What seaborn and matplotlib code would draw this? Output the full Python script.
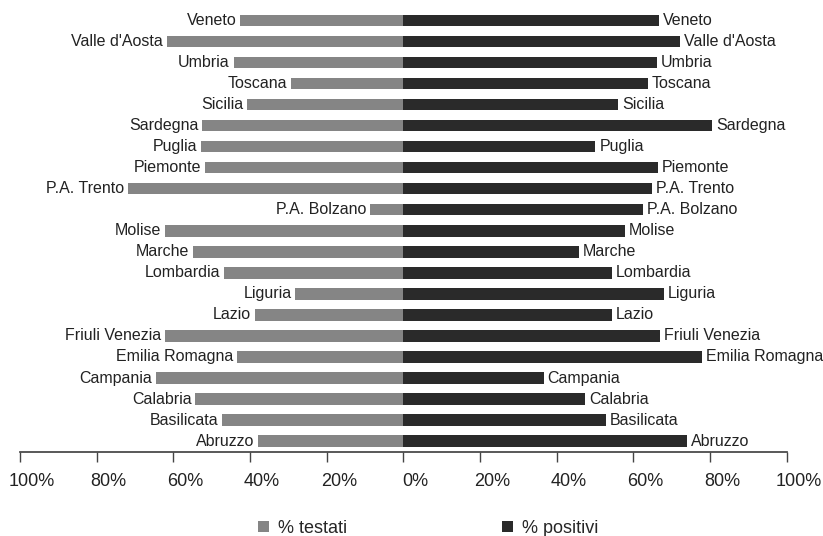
import numpy as np
import pandas as pd
import matplotlib
matplotlib.use("Agg")
import matplotlib.pyplot as plt
import matplotlib.transforms as mtransforms
import seaborn as sns
from matplotlib.patches import Patch

# 지역 (위 -> 아래 순서)
regioni = ["Veneto", "Valle d'Aosta", "Umbria", "Toscana", "Sicilia", "Sardegna",
           "Puglia", "Piemonte", "P.A. Trento", "P.A. Bolzano", "Molise", "Marche",
           "Lombardia", "Liguria", "Lazio", "Friuli Venezia", "Emilia Romagna",
           "Campania", "Calabria", "Basilicata", "Abruzzo"]
testati = [42.6, 61.7, 44.3, 29.2, 40.7, 52.4, 52.8, 51.7, 71.8, 8.7, 62.2, 55.0,
           46.7, 28.2, 38.7, 62.2, 43.5, 64.6, 54.3, 47.2, 37.8]
positivi = [66.7, 72.2, 66.1, 63.8, 56.0, 80.6, 50.1, 66.4, 64.8, 62.5, 57.7, 45.7,
            54.4, 67.9, 54.4, 67.0, 77.9, 36.6, 47.4, 52.9, 74.1]
serie = ["% testati", "% positivi"]
colori = ["#858585", "#2a2a2a"]

sns.set_theme(style="white")
plt.rcParams['font.family'] = ['Liberation Sans', 'DejaVu Sans']

# 왼쪽은 음수로 뒤집어서 그린다
df = pd.concat([
    pd.DataFrame({"regione": regioni, "valore": -np.array(testati), "serie": serie[0]}),
    pd.DataFrame({"regione": regioni, "valore": np.array(positivi), "serie": serie[1]}),
])

fig = plt.figure(figsize=(8.23, 5.36), dpi=100)
ax = fig.add_axes([0.0243, 0.1567, 0.9317, 0.8253])

sns.barplot(data=df, x="valore", y="regione", hue="serie", order=regioni,
            hue_order=serie, palette=colori, dodge=False, width=0.54,
            saturation=1, linewidth=0, orient="h", legend=False, ax=ax)

# 막대 끝 라벨
for i, r in enumerate(regioni):
    ax.text(-testati[i] - 1.0, i, r, ha="right", va="center", fontsize=11.5, color="#222222")
    ax.text(positivi[i] + 1.0, i, r, ha="left", va="center", fontsize=11.5, color="#222222",
            clip_on=False)

ax.set_xlim(-100, 100)
ax.set_ylim(len(regioni) - 0.48, -0.52)
ax.set_xticks(np.arange(-100, 101, 20))
ax.set_xticklabels([f"{abs(v)}%" for v in range(-100, 101, 20)], fontsize=13, color="#222222")
ax.set_yticks([])
ax.set_xlabel("")
ax.set_ylabel("")
sns.despine(ax=ax, left=True, top=True, right=True)
ax.spines["bottom"].set_color("#444444")
ax.tick_params(axis="x", direction="out", length=7, width=1, color="#444444", pad=8, bottom=True)

# 원본처럼 눈금 라벨을 오른쪽으로 조금 밀기
shift = mtransforms.ScaledTranslation(12 / 100, 0, fig.dpi_scale_trans)
for lbl in ax.get_xticklabels():
    lbl.set_transform(lbl.get_transform() + shift)

handles = [Patch(facecolor=c, edgecolor="none") for c in colori]
fig.legend(handles, serie, loc="center", bbox_to_anchor=(0.52, 0.014), ncol=2,
           frameon=False, fontsize=13, handlelength=0.6, handleheight=0.6,
           handletextpad=0.5, columnspacing=8.6)

fig.savefig("out.png", dpi=100)
